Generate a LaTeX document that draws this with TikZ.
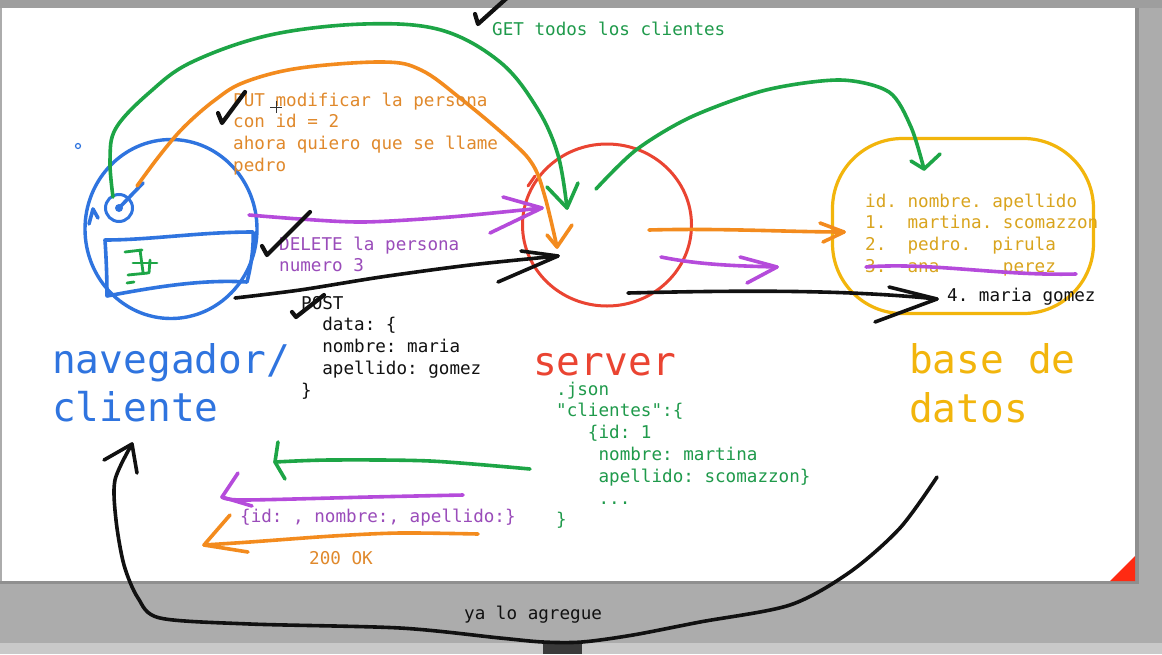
\documentclass[tikz,border=0pt]{standalone}
\usepackage{fontspec}
\setmonofont{DejaVu Sans Mono}
\usetikzlibrary{shapes.geometric}

\definecolor{screengray}{HTML}{ACACAC}
\definecolor{topgray}{HTML}{9E9E9E}
\definecolor{edgegray}{HTML}{8F8F8F}
\definecolor{barlight}{HTML}{C9C9C9}
\definecolor{bardark}{HTML}{3A3A3A}
\definecolor{cornerred}{HTML}{FF2A12}
\definecolor{bluepen}{HTML}{2F74DF}
\definecolor{redpen}{HTML}{EA4432}
\definecolor{yellowpen}{HTML}{F2B50C}
\definecolor{greenpen}{HTML}{1DA546}
\definecolor{orangepen}{HTML}{F38B1E}
\definecolor{purplepen}{HTML}{B54BDB}
\definecolor{inkpen}{HTML}{111111}
\definecolor{textgreen}{HTML}{1F9A4B}
\definecolor{textorange}{HTML}{E0892C}
\definecolor{textpurple}{HTML}{9A4CBA}
\definecolor{textyellow}{HTML}{D9A41E}

\tikzset{
	pen/.style={line width=3.6pt, line cap=round, line join=round},
	thin pen/.style={line width=2.8pt, line cap=round, line join=round},
	check/.style={line width=4.2pt, line cap=round, line join=round, inkpen},
	mono/.style={font=\ttfamily\fontsize{17.6}{21.8}\selectfont, inner sep=0pt, anchor=base west, align=left},
	big/.style={font=\ttfamily\fontsize{39.5}{48.5}\selectfont, inner sep=0pt, anchor=base west, align=left}
}

\begin{document}
\begin{tikzpicture}[x=1pt, y=-1pt]
			%%%%% START %%%%%
			\useasboundingbox (0,0) rectangle (1162,654);
			
			\fill[screengray] (0,0) rectangle (1162,654);
			\fill[topgray] (0,0) rectangle (1162,8);
			\fill[white] (2,8) rectangle (1135,581);
			\fill[edgegray] (1135,8) rectangle (1139,584);
			\fill[edgegray] (0,581) rectangle (1139,584);
			\fill[barlight] (0,643) rectangle (1162,654);
			\fill[bardark] (543,643) rectangle (582,654);
			\fill[cornerred] (1110,581) -- (1135,556) -- (1135,581) -- cycle;
			
			\node[ellipse, draw=bluepen, line width=3.4pt, minimum width=172pt, minimum height=179pt] (nav) at (171,229) {};
			\node[ellipse, draw=redpen, line width=3pt, minimum width=169pt, minimum height=162pt] (srv) at (607,225) {};
			\node[draw=yellowpen, line width=3.2pt, rounded corners=70pt, minimum width=261pt, minimum height=175pt] (db) at (963,226) {};
			
			\node[circle, draw=bluepen, line width=3pt, minimum size=27pt, inner sep=0pt] (lens) at (119,208) {};
			\fill[bluepen] (lens.center) circle (4);
			\draw[pen, bluepen] (lens.center) -- (143,183);
			\draw[pen, bluepen] (89,224) -- (93,209) -- (98,218);
			\draw[bluepen, line width=1.2pt] (78,146) circle (2.5);
			\draw[redpen, line width=3pt, line cap=round] (528,186) -- (535,176);
			
			\draw[pen, bluepen] (105,240) .. controls (150,240) and (200,232) .. (253,232) .. controls (254,250) and (250,270) .. (247,282) .. controls (200,279) and (150,288) .. (107,296) .. controls (107,275) and (106,255) .. cycle;
			\draw[thin pen, greenpen] (125,252) -- (142,250);
			\draw[thin pen, greenpen] (133,263) -- (157,263);
			\draw[thin pen, greenpen] (128,275) -- (148,273);
			\draw[thin pen, greenpen] (140,250) -- (143,272);
			\draw[thin pen, greenpen] (150,260) -- (149,273);
			\draw[thin pen, greenpen] (127,283) -- (134,282);
			
			% GET, PUT, DELETE, POST
			\coordinate (getA) at (113,197);
			\coordinate (getB) at (567,208);
			\draw[pen, greenpen] plot[smooth, tension=0.6] coordinates {(getA) (110,160) (116,128) (150,92) (192,62) (270,35) (364,24) (441,30) (500,62) (537,108) (558,155) (getB)};
			\draw[pen, greenpen] (547,187) -- (getB) -- (578,183);
			
			\coordinate (putA) at (137,186);
			\coordinate (putB) at (557,247);
			\draw[pen, orangepen] plot[smooth, tension=0.6] coordinates {(putA) (160,155) (184,127) (215,100) (245,82) (300,68) (383,62) (421,70) (460,98) (510,140) (533,165) (545,197) (putB)};
			\draw[pen, orangepen] (547,235) -- (putB) -- (572,225);
			
			\coordinate (delA) at (249,215);
			\coordinate (delB) at (542,208);
			\draw[pen, purplepen] plot[smooth] coordinates {(delA) (300,219) (364,222) (450,217) (delB)};
			\draw[pen, purplepen] (503,197) -- (delB) -- (490,233);
			
			\coordinate (postA) at (235,298);
			\coordinate (postB) at (558,256);
			\draw[pen, inkpen] plot[smooth] coordinates {(postA) (300,290) (381,277) (470,265) (postB)};
			\draw[pen, inkpen] (521,251) -- (postB) -- (498,282);
			
			% server to base de datos
			\coordinate (ordA) at (649,230);
			\coordinate (ordB) at (844,232);
			\draw[pen, orangepen] (ordA) .. controls (720,228) and (790,232) .. (ordB);
			\draw[pen, orangepen] (820,223) -- (ordB) -- (823,242);
			
			\coordinate (pdA) at (661,257);
			\coordinate (pdB) at (777,267);
			\draw[pen, purplepen] (pdA) .. controls (700,265) and (740,266) .. (pdB);
			\draw[pen, purplepen] (740,257) -- (pdB) -- (747,283);
			
			\coordinate (bdA) at (628,293);
			\coordinate (bdB) at (937,299);
			\draw[pen, inkpen] (bdA) .. controls (750,290) and (850,290) .. (bdB);
			\draw[pen, inkpen] (889,287) -- (bdB) -- (875,322);
			
			\coordinate (gdA) at (596,189);
			\coordinate (gdB) at (924,169);
			\draw[pen, greenpen] plot[smooth] coordinates {(gdA) (636,150) (691,117) (766,90) (840,80) (889,92) (911,127) (gdB)};
			\draw[pen, greenpen] (911,161) -- (gdB) -- (940,154);
			
			% answers
			\coordinate (rgA) at (530,469);
			\coordinate (rgB) at (275,462);
			\draw[pen, greenpen] plot[smooth] coordinates {(rgA) (430,461) (330,460) (rgB)};
			\draw[pen, greenpen] (278,442) -- (rgB) -- (285,479);
			
			\coordinate (rpA) at (463,495);
			\coordinate (rpB) at (222,497);
			\draw[pen, purplepen] plot[smooth] coordinates {(rpA) (370,497) (244,500) (rpB)};
			\draw[pen, purplepen] (238,473) -- (rpB) -- (252,506);
			
			\coordinate (roA) at (478,534);
			\coordinate (roB) at (204,545);
			\draw[pen, orangepen] plot[smooth] coordinates {(roA) (400,533) (333,536) (250,542) (roB)};
			\draw[pen, orangepen] (230,515) -- (roB) -- (248,552);
			
			\coordinate (retA) at (937,477);
			\coordinate (retB) at (132,444);
			\draw[pen, inkpen] plot[smooth, tension=0.5] coordinates {(retA) (900,528) (850,572) (790,605) (700,622) (633,635) (582,642) (543,642) (500,638) (400,628) (250,624) (160,618) (138,598) (124,565) (116,520) (115,480) (retB)};
			\draw[pen, inkpen] (104,460) -- (retB) -- (137,473);
			
			% texts (base = last line)
			\node[mono, textgreen] (get) at (492,35) {GET todos los clientes};
			\node[mono, textorange] (put) at (233,171.4) {PUT modificar la persona\\con id = 2\\ahora quiero que se llame\\pedro};
			\node[mono, textpurple] (del) at (279,271.8) {DELETE la persona\\numero 3};
			\node[mono, inkpen] (post) at (301,396.2) {POST\\\phantom{xx}data: \{\\\phantom{xx}nombre: maria\\\phantom{xx}apellido: gomez\\\}};
			\node[mono, textgreen] (json) at (556,525.8) {.json\\"clientes":\{\\\phantom{xxx}\{id: 1\\\phantom{xxxx}nombre: martina\\\phantom{xxxx}apellido: scomazzon\}\\\phantom{xxxx}...\\\}};
			\node[mono, textyellow] (rows) at (865,272.4) {id.~nombre.~apellido\\1.~~martina.~scomazzon\\2.~~pedro.~~pirula\\3.~~ana~~~~~~perez};
			\draw[pen, purplepen] (866,267) .. controls (930,262) and (1000,276) .. (1076,274);
			\node[mono, inkpen] (newrow) at (947,301) {4. maria gomez};
			\node[mono, textpurple] (resp) at (240,522) {\{id: , nombre:, apellido:\}};
			\node[mono, textorange] (ok) at (309,564) {200 OK};
			\node[mono, inkpen] (note) at (464,619) {ya lo agregue};
			
			\node[big, bluepen] (navlabel) at (52,421.5) {navegador/\\cliente};
			\node[big, redpen] (srvlabel) at (533,375.5) {server};
			\node[big, yellowpen] (dblabel) at (909,422) {base de\\datos};
			
			% checks
			\draw[check] (475,14) -- (478,24) -- (508,-3);
			\draw[check] (218,113) -- (222,123) -- (245,92);
			\draw[check] (262,246) -- (267,255) -- (310,212);
			\draw[check] (292,312) -- (296,317) -- (324,295);
			\draw[line width=1pt, black!80] (270,107) -- (282,107) (276,101) -- (276,113);
			
			%%%%% END %%%%%
\end{tikzpicture}
\end{document}
